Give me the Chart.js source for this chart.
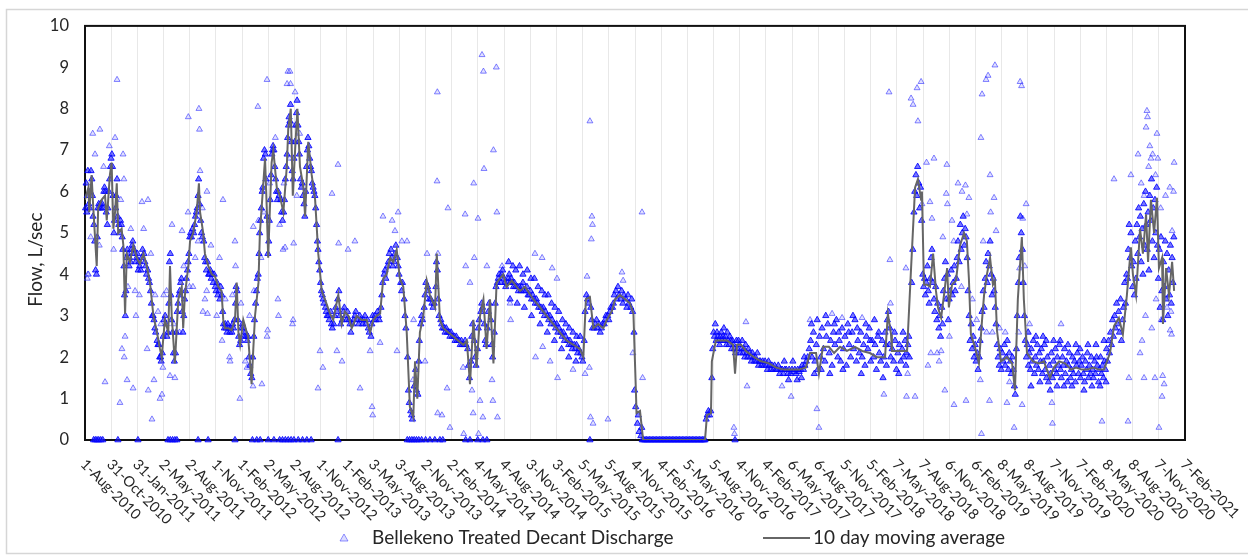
<!DOCTYPE html>
<html><head><meta charset="utf-8">
<script src="https://cdn.jsdelivr.net/npm/chart.js@4.4.1/dist/chart.umd.min.js"></script>
<style>html,body{margin:0;padding:0;background:#fff;}canvas{display:block;}</style>
</head><body>
<canvas id="c" width="1248" height="557"></canvas>
<script>
// x values are days since 1-Aug-2010
const tickLabels = ["1-Aug-2010","31-Oct-2010","31-Jan-2011","2-May-2011","2-Aug-2011","1-Nov-2011","1-Feb-2012","2-May-2012","2-Aug-2012","1-Nov-2012","1-Feb-2013","3-May-2013","3-Aug-2013","2-Nov-2013","2-Feb-2014","4-May-2014","4-Aug-2014","3-Nov-2014","3-Feb-2015","5-May-2015","5-Aug-2015","4-Nov-2015","4-Feb-2016","5-May-2016","5-Aug-2016","4-Nov-2016","4-Feb-2017","6-May-2017","6-Aug-2017","5-Nov-2017","5-Feb-2018","7-May-2018","7-Aug-2018","6-Nov-2018","6-Feb-2019","8-May-2019","8-Aug-2019","7-Nov-2019","7-Feb-2020","8-May-2020","8-Aug-2020","7-Nov-2020","7-Feb-2021"];
const axisMinDay = 0, axisMaxDay = 3843, tickStepDays = 91.5;
const yMin = 0, yMax = 10, yStep = 1;

const movingAverage = [[0,5.8],[12,6.1],[15,5.5],[23,6.4],[29,5.6],[41,4.2],[46,5.6],[58,5.8],[70,5.9],[76,5.3],[81,5.8],[87,6.4],[93,6.7],[99,5.1],[105,5.5],[111,6.2],[116,5.0],[128,5.1],[134,4.7],[140,3.05],[146,4.5],[157,4.3],[169,4.7],[181,4.4],[192,4.25],[204,4.5],[216,4.2],[227,3.8],[239,3.0],[250,2.65],[262,2.2],[268,2.0],[279,2.9],[291,2.6],[297,4.2],[303,3.0],[314,1.85],[326,3.4],[338,3.7],[343,2.7],[349,3.5],[361,4.2],[367,4.8],[378,5.0],[390,5.5],[398,6.2],[402,5.5],[413,5.0],[419,4.5],[431,4.2],[443,4.0],[454,3.95],[466,3.7],[477,3.6],[483,2.9],[489,2.7],[501,2.7],[512,2.65],[524,2.9],[530,3.8],[536,2.6],[542,2.3],[553,2.9],[565,2.6],[570,2.5],[582,1.35],[588,2.2],[594,3.0],[606,3.8],[611,5.0],[623,6.2],[629,6.8],[635,5.6],[640,4.4],[646,5.6],[652,6.7],[658,7.0],[670,6.1],[681,5.9],[693,5.5],[705,6.6],[710,7.5],[719,8.0],[726,5.9],[734,7.0],[742,8.0],[751,6.6],[763,6.1],[769,5.4],[780,7.2],[792,6.4],[804,5.8],[815,4.5],[827,3.6],[838,3.4],[856,3.05],[867,2.9],[885,3.5],[897,2.8],[908,3.1],[920,3.0],[932,2.7],[949,3.0],[967,2.9],[984,2.9],[996,2.6],[1007,2.9],[1019,3.0],[1031,3.05],[1042,3.9],[1054,4.0],[1066,4.4],[1077,4.3],[1089,4.6],[1100,3.9],[1112,3.7],[1124,2.6],[1135,0.8],[1147,0.55],[1153,1.9],[1161,1.0],[1170,2.6],[1182,3.0],[1194,3.85],[1205,3.5],[1223,3.2],[1229,4.5],[1240,2.9],[1252,2.7],[1269,2.6],[1287,2.5],[1304,2.4],[1322,2.3],[1334,2.4],[1345,1.35],[1357,2.9],[1368,1.75],[1380,3.0],[1392,3.4],[1403,2.2],[1415,3.4],[1427,1.85],[1438,3.8],[1450,3.9],[1461,4.0],[1473,3.7],[1491,3.85],[1508,3.7],[1520,3.6],[1537,3.7],[1566,3.4],[1590,3.2],[1613,3.0],[1636,2.8],[1659,2.6],[1683,2.4],[1706,2.3],[1729,2.2],[1741,2.0],[1750,3.4],[1764,3.45],[1776,2.7],[1793,2.8],[1811,2.7],[1823,2.9],[1840,3.1],[1852,3.4],[1869,3.5],[1887,3.4],[1904,3.3],[1916,3.05],[1922,1.75],[1927,0.65],[1939,0.7],[1950,0],[2166,0],[2173,0.6],[2187,0.65],[2190,1.9],[2204,2.4],[2225,2.4],[2243,2.4],[2264,2.3],[2271,1.6],[2278,2.3],[2292,2.3],[2309,2.15],[2337,2.0],[2362,1.9],[2390,1.85],[2414,1.75],[2442,1.7],[2466,1.7],[2494,1.7],[2519,1.75],[2533,2.1],[2554,2.1],[2564,1.6],[2578,2.25],[2599,2.25],[2617,2.1],[2638,2.25],[2662,2.15],[2690,2.25],[2715,2.15],[2742,2.1],[2767,2.0],[2795,2.0],[2805,3.05],[2816,2.55],[2819,2.15],[2847,2.15],[2872,2.15],[2886,4.15],[2900,6.1],[2910,6.3],[2921,5.8],[2924,6.0],[2931,3.75],[2942,3.75],[2952,3.7],[2963,4.5],[2973,3.6],[2980,3.2],[2991,2.95],[3001,3.5],[3012,4.15],[3018,3.2],[3029,3.75],[3043,3.85],[3057,4.7],[3071,5.0],[3081,4.8],[3088,3.9],[3095,2.55],[3109,2.25],[3123,1.85],[3134,2.9],[3141,3.5],[3151,4.0],[3162,4.4],[3172,3.75],[3179,3.85],[3186,2.65],[3200,1.9],[3221,2.0],[3239,1.85],[3249,1.2],[3259,3.4],[3273,4.9],[3280,3.4],[3291,2.1],[3312,1.9],[3333,1.85],[3350,1.9],[3371,1.5],[3385,1.75],[3403,1.9],[3424,1.85],[3445,1.7],[3462,1.75],[3483,1.7],[3501,1.7],[3522,1.75],[3543,1.7],[3560,1.7],[3581,2.1],[3595,2.75],[3612,2.95],[3626,2.55],[3640,3.5],[3654,4.65],[3661,4.0],[3672,3.5],[3686,5.1],[3696,4.5],[3707,5.45],[3714,4.3],[3724,5.8],[3735,5.0],[3745,5.85],[3752,4.15],[3763,4.4],[3766,2.8],[3777,4.15],[3787,3.5],[3798,4.3],[3805,3.6]];

const flow2010to2012 = [[2,5.6],[4,6.2],[6,5.5],[8,5.9],[10,6.5],[13,5.7],[16,5.6],[18,6.0],[21,6.5],[24,6.3],[26,5.9],[28,5.4],[31,5.2],[34,4.8],[37,4.1],[40,4.0],[43,4.9],[45,5.6],[48,5.7],[51,5.6],[54,5.7],[56,5.6],[60,5.7],[63,5.6],[66,6.0],[68,6.1],[72,6.0],[74,5.5],[78,5.2],[80,5.6],[83,6.0],[86,6.3],[89,6.6],[91,6.8],[94,6.9],[96,6.6],[98,5.9],[101,5.0],[103,5.3],[107,5.6],[109,5.9],[112,6.3],[114,5.4],[118,5.2],[121,5.0],[124,5.3],[127,5.2],[130,4.9],[132,4.6],[136,4.2],[138,3.5],[141,3.0],[143,3.6],[145,4.4],[148,4.6],[151,4.5],[154,4.2],[156,4.4],[159,4.3],[162,4.6],[165,4.7],[167,4.8],[171,4.6],[174,4.5],[177,4.3],[180,4.4],[183,4.5],[186,4.1],[189,4.3],[191,4.2],[195,4.1],[198,4.4],[201,4.6],[206,4.5],[209,4.3],[212,4.2],[215,4.0],[219,4.1],[222,3.9],[225,3.8],[229,3.6],[232,3.3],[235,3.0],[238,3.0],[241,2.9],[244,2.7],[247,2.6],[252,2.4],[255,2.3],[258,2.3],[261,2.0],[264,2.0],[266,1.9],[270,2.1],[273,2.5],[276,2.9],[280,3.0],[283,2.8],[286,2.5],[289,2.6],[293,3.3],[295,4.3],[298,4.5],[300,3.5],[302,2.9],[306,2.6],[309,2.1],[312,1.9],[316,2.1],[319,2.6],[322,3.1],[325,3.3],[328,3.5],[331,3.6],[334,3.8],[337,3.9],[340,3.1],[342,2.6],[345,3.0],[348,3.4],[351,3.6],[354,3.9],[358,4.1],[360,4.3],[363,4.5],[366,4.9],[369,5.0],[372,4.9],[376,5.1],[380,5.0],[383,5.2],[386,5.4],[389,5.5],[392,5.6],[395,5.9],[397,6.3],[400,5.7],[404,5.3],[407,5.0],[410,4.9],[415,4.8],[418,4.4],[421,4.3],[424,4.1],[428,4.3],[432,4.0],[435,4.0],[438,4.1],[441,3.9],[445,4.0],[448,3.8],[451,4.0],[455,3.7],[458,3.6],[461,3.8],[464,3.5],[468,3.6],[471,3.4],[474,3.7],[478,3.5],[481,3.1],[484,2.8],[487,2.7],[490,2.8],[493,2.7],[496,2.6],[499,2.8],[503,2.7],[506,2.6],[509,2.7],[513,2.6],[516,2.8],[519,2.7],[522,2.9],[526,3.3],[528,3.7],[531,3.6],[534,2.9],[537,2.5],[540,2.3],[544,2.4],[547,2.7],[550,2.8],[554,2.7],[557,2.5],[560,2.6],[563,2.5],[567,2.4],[569,2.5],[573,2.0],[576,1.8],[579,1.6],[583,1.5],[586,2.0],[590,2.5],[592,2.9],[596,3.3],[599,3.6],[602,3.9],[605,4.0],[608,4.5],[610,5.0],[613,5.3],[616,5.6],[619,6.0],[621,6.1],[624,6.8],[627,7.0],[630,6.9],[632,6.3],[636,5.4],[639,4.5],[642,4.8],[644,5.3],[647,5.8],[650,6.4],[653,6.9],[655,7.0],[657,7.1],[660,7.0],[663,6.6],[666,6.3],[669,6.0],[672,5.8],[675,6.0],[678,5.9],[684,5.8],[687,5.5],[690,5.3],[694,5.5],[697,5.8],[700,6.3],[703,6.6],[706,6.9],[708,7.3],[711,7.6],[713,7.8],[716,7.7],[718,8.1],[721,7.2],[724,6.5],[727,6.3],[730,6.8],[733,7.2],[736,7.6],[739,7.9],[741,8.2],[744,7.6],[747,7.2],[749,6.9]];

const flow2012to2015 = [[753,6.3],[756,6.1],[759,6.2],[762,5.9],[765,5.7],[768,5.4],[771,6.0],[774,6.6],[777,7.0],[779,7.3],[782,7.1],[785,6.8],[788,6.6],[791,6.5],[794,6.2],[797,6.1],[800,6.0],[803,5.9],[806,5.6],[809,5.2],[812,4.8],[814,4.6],[817,4.3],[820,4.1],[823,3.8],[826,3.6],[829,3.5],[832,3.4],[835,3.3],[840,3.2],[843,3.1],[846,3.0],[850,3.0],[853,2.9],[858,3.1],[861,2.8],[864,2.7],[869,2.8],[872,3.0],[876,3.2],[880,3.1],[883,3.4],[887,3.6],[890,3.0],[893,2.8],[899,2.9],[903,3.1],[906,3.2],[911,3.0],[914,2.9],[917,3.1],[923,2.9],[926,2.8],[929,2.6],[935,2.8],[939,2.9],[943,3.0],[946,3.1],[952,2.9],[956,2.8],[960,3.0],[963,2.9],[970,2.8],[974,2.9],[978,3.0],[981,2.8],[987,2.9],[990,2.7],[993,2.6],[999,2.5],[1002,2.8],[1005,3.0],[1010,2.9],[1013,3.0],[1016,2.9],[1022,3.1],[1025,3.0],[1028,2.9],[1034,3.2],[1037,3.5],[1040,3.8],[1045,4.0],[1048,4.1],[1051,3.9],[1057,4.2],[1060,4.3],[1063,4.5],[1069,4.6],[1072,4.4],[1075,4.2],[1080,4.3],[1083,4.5],[1086,4.7],[1091,4.4],[1094,4.2],[1097,4.0],[1103,3.8],[1106,3.6],[1109,3.8],[1115,3.4],[1118,3.0],[1121,2.7],[1127,2.0],[1130,1.2],[1133,0.9],[1138,0.7],[1141,0.6],[1144,0.5],[1150,1.3],[1155,1.7],[1158,1.2],[1163,1.1],[1166,1.9],[1168,2.4],[1173,2.8],[1176,3.0],[1179,2.9],[1185,3.2],[1188,3.5],[1191,3.8],[1197,3.7],[1200,3.6],[1203,3.4],[1208,3.4],[1212,3.3],[1216,3.2],[1220,3.3],[1226,3.7],[1228,4.3],[1231,4.1],[1234,3.4],[1237,3.0],[1243,2.9],[1246,2.8],[1249,2.7],[1255,2.7],[1258,2.6],[1262,2.7],[1266,2.6],[1272,2.6],[1275,2.5],[1279,2.6],[1283,2.5],[1290,2.5],[1293,2.4],[1297,2.5],[1300,2.4],[1307,2.4],[1311,2.3],[1315,2.4],[1318,2.3],[1325,2.3],[1328,2.4],[1331,2.3],[1337,2.2],[1340,1.8],[1343,1.5],[1348,1.9],[1351,2.5],[1354,2.8],[1360,2.4],[1363,2.0],[1366,1.8],[1371,2.2],[1374,2.7],[1377,2.9],[1383,3.1],[1386,3.3],[1389,3.2],[1395,2.8],[1398,2.4],[1401,2.3],[1406,2.7],[1409,3.1],[1412,3.3],[1418,2.9],[1421,2.3],[1424,2.0],[1430,2.6],[1433,3.3],[1436,3.7],[1441,3.8],[1444,3.9],[1447,4.0],[1453,3.8],[1456,4.0],[1459,4.1],[1464,3.9],[1467,3.8],[1470,3.7],[1476,3.8],[1479,3.9],[1482,4.0],[1486,3.8],[1489,3.9],[1494,3.8],[1497,3.7],[1500,3.8],[1504,3.7],[1511,3.7],[1514,3.6],[1517,3.7],[1523,3.6],[1526,3.7],[1530,3.8],[1533,3.6],[1540,3.6],[1544,3.7],[1548,3.5],[1552,3.5],[1556,3.6],[1560,3.4],[1564,3.5],[1569,3.4],[1573,3.3],[1577,3.4],[1581,3.3],[1585,3.2],[1593,3.2],[1597,3.1],[1601,3.2],[1605,3.0],[1609,3.1],[1616,3.0],[1620,2.9],[1624,3.0],[1628,2.8],[1632,2.9],[1640,2.8],[1644,2.7],[1648,2.8],[1652,2.6],[1656,2.7],[1663,2.6],[1667,2.5],[1671,2.6],[1675,2.4],[1679,2.5],[1686,2.4],[1690,2.3],[1694,2.4],[1698,2.3],[1702,2.2],[1709,2.3],[1713,2.2],[1717,2.3],[1721,2.1],[1725,2.2],[1732,2.1],[1736,2.0],[1739,1.9],[1744,2.4],[1747,3.1],[1752,3.5],[1756,3.4],[1760,3.3],[1767,3.2],[1770,2.9],[1773,2.7],[1779,2.7],[1783,2.8],[1787,2.9],[1790,2.7],[1796,2.8],[1800,2.6],[1804,2.7],[1808,2.8],[1814,2.8],[1817,2.9],[1820,3.0],[1826,3.0],[1830,2.9],[1834,3.1],[1837,3.2],[1843,3.2],[1846,3.3],[1849,3.5],[1855,3.6],[1858,3.4],[1862,3.7],[1866,3.5],[1872,3.4],[1875,3.6],[1879,3.3],[1883,3.5],[1890,3.4],[1893,3.2],[1897,3.5],[1900,3.3],[1907,3.2],[1910,3.4],[1913,3.1],[1918,2.6],[1920,1.2],[1924,0.8],[1930,0.4],[1933,0.6],[1936,0.2],[1942,0.1],[1945,0.3],[1480,4.3],[1495,4.2],[1505,4.1],[1518,4.2],[1530,4.0],[1545,4.1],[1558,3.9],[1570,3.9],[1583,3.7],[1596,3.6],[1607,3.5],[1618,3.5],[1630,3.3],[1642,3.2],[1655,3.1],[1668,2.9],[1680,2.8],[1692,2.7],[1705,2.6],[1718,2.5],[1730,2.5],[1485,3.4],[1510,3.3],[1535,3.2],[1560,3.0],[1590,2.8],[1615,2.6],[1640,2.4],[1665,2.2],[1690,2.0],[1715,1.9]];

const flow2016to2018 = [[2170,0.5],[2174,0.6],[2178,0.7],[2182,0.6],[2186,0.7],[2190,1.5],[2193,2.2],[2196,2.6],[2199,2.5],[2202,2.8],[2205,2.4],[2208,2.6],[2211,2.5],[2214,2.4],[2217,2.3],[2220,2.5],[2223,2.6],[2226,2.4],[2229,2.5],[2232,2.7],[2235,2.4],[2238,2.5],[2241,2.3],[2244,2.6],[2247,2.4],[2250,2.3],[2253,2.5],[2256,2.4],[2259,2.2],[2262,2.4],[2266,2.3],[2269,2.2],[2273,2.1],[2276,2.4],[2280,2.2],[2283,2.4],[2286,2.3],[2289,2.1],[2293,2.2],[2296,2.4],[2299,2.1],[2302,2.2],[2305,2.0],[2308,2.3],[2312,2.1],[2315,2.0],[2318,2.2],[2322,2.1],[2325,2.0],[2328,1.9],[2332,2.1],[2335,2.0],[2339,1.9],[2342,2.0],[2346,1.9],[2349,2.1],[2353,1.8],[2356,1.9],[2360,1.9],[2364,1.8],[2368,1.9],[2372,1.8],[2376,1.9],[2380,1.8],[2384,1.7],[2388,1.9],[2392,1.8],[2396,1.7],[2400,1.8],[2405,1.7],[2409,1.8],[2413,1.7],[2418,1.7],[2422,1.8],[2427,1.6],[2431,1.7],[2436,1.7],[2440,1.6],[2445,1.7],[2450,1.7],[2455,1.6],[2460,1.7],[2465,1.6],[2470,1.7],[2475,1.65],[2480,1.7],[2485,1.6],[2490,1.7],[2495,1.65],[2500,1.7],[2505,1.8],[2510,1.7],[2515,1.8],[2520,1.9],[2525,2.0],[2530,2.2],[2535,2.4],[2540,2.0],[2545,2.6],[2550,1.9],[2555,2.3],[2560,1.7],[2566,2.5],[2570,2.0],[2575,2.7],[2580,2.2],[2585,1.9],[2590,2.5],[2595,2.8],[2600,2.1],[2605,2.4],[2610,1.8],[2615,2.6],[2620,2.3],[2625,2.9],[2630,2.0],[2635,2.4],[2640,1.9],[2645,2.7],[2650,2.2],[2655,2.5],[2660,1.8],[2665,2.8],[2670,2.3],[2675,2.0],[2680,2.6],[2685,2.2],[2690,2.9],[2695,1.9],[2700,2.4],[2705,2.1],[2710,2.6],[2715,2.0],[2720,2.3],[2725,1.8],[2730,2.5],[2735,2.2],[2740,2.7],[2745,1.9],[2750,2.4],[2755,2.0],[2760,2.3],[2765,1.7],[2770,2.5],[2775,2.1],[2780,1.9],[2785,2.4],[2790,2.0],[2795,2.6],[2800,1.8],[2803,2.9],[2807,3.1],[2810,2.3],[2815,2.0],[2820,2.2],[2825,1.9],[2830,2.4],[2835,1.7],[2840,2.1],[2845,2.3],[2850,1.9],[2855,2.2],[2860,2.0],[2865,2.4],[2870,2.1],[2875,2.3],[2880,2.0],[2538,2.8],[2548,1.6],[2558,2.9],[2572,1.7],[2588,3.0],[2602,1.6],[2618,2.8],[2633,2.6],[2648,1.7],[2668,2.6],[2683,3.0],[2698,2.7],[2712,1.6],[2728,2.8],[2743,2.4],[2758,2.9],[2773,2.6],[2788,1.5],[2798,2.3],[2812,2.7],[2828,2.6],[2843,1.6],[2858,2.6],[2868,1.8],[2878,2.5],[2443,1.9],[2458,1.45],[2473,1.9],[2488,1.45],[2503,1.5],[2513,2.0]];

const flow2018to2021 = [[2888,3.8],[2892,4.6],[2896,5.5],[2899,6.0],[2903,6.4],[2906,5.9],[2909,6.6],[2913,6.2],[2916,5.6],[2919,6.1],[2923,5.3],[2927,4.0],[2930,3.7],[2933,3.9],[2936,3.5],[2939,3.8],[2943,4.2],[2946,3.6],[2949,3.3],[2953,3.9],[2956,4.4],[2959,4.6],[2962,3.8],[2966,3.4],[2969,3.1],[2972,3.7],[2976,2.9],[2979,3.3],[2983,2.7],[2986,3.0],[2989,2.5],[2993,3.2],[2996,2.8],[2999,3.6],[3003,3.9],[3006,4.3],[3009,3.4],[3013,4.0],[3016,2.9],[3019,3.4],[3023,3.6],[3026,4.1],[3030,3.5],[3033,3.8],[3037,4.2],[3040,3.6],[3044,3.9],[3047,4.4],[3050,4.8],[3054,4.3],[3058,5.2],[3061,4.6],[3065,5.0],[3068,5.4],[3072,4.7],[3075,5.1],[3078,4.9],[3082,4.4],[3085,3.6],[3089,3.0],[3092,2.4],[3096,2.8],[3099,2.2],[3103,2.5],[3106,2.0],[3110,2.3],[3113,1.9],[3117,2.1],[3120,1.7],[3124,2.0],[3127,2.4],[3131,2.7],[3134,3.1],[3138,3.6],[3141,3.2],[3145,3.9],[3148,4.3],[3152,3.8],[3155,4.5],[3159,4.2],[3162,4.8],[3166,4.0],[3169,3.5],[3173,3.9],[3176,3.6],[3180,3.2],[3183,2.8],[3187,2.3],[3190,2.0],[3194,1.8],[3197,2.2],[3201,1.7],[3205,2.1],[3208,1.9],[3212,2.3],[3215,1.8],[3219,2.0],[3222,2.4],[3226,1.7],[3229,2.1],[3233,1.9],[3236,1.6],[3240,2.0],[3243,1.7],[3247,1.3],[3250,1.1],[3254,2.2],[3257,3.0],[3261,3.8],[3264,4.4],[3268,5.4],[3271,5.0],[3275,4.6],[3278,3.8],[3282,3.0],[3285,2.4],[3289,2.0],[3292,2.3],[3296,1.8],[3299,2.1],[3303,1.7],[3306,2.2],[3310,1.9],[3313,2.4],[3317,1.6],[3320,2.0],[3324,1.8],[3327,2.3],[3331,1.7],[3334,2.1],[3338,1.9],[3341,2.2],[3345,1.6],[3348,1.9],[3352,2.3],[3355,1.7],[3359,1.5],[3362,2.0],[3366,1.4],[3369,1.8],[3373,1.6],[3376,2.1],[3380,1.5],[3383,1.9],[3387,1.7],[3390,2.2],[3394,1.6],[3397,2.0],[3401,1.8],[3404,2.3],[3408,1.7],[3411,1.5],[3415,2.0],[3418,1.8],[3422,2.2],[3425,1.6],[3429,1.9],[3432,1.4],[3436,1.8],[3439,2.1],[3443,1.5],[3446,1.7],[3450,2.0],[3453,1.6],[3457,1.9],[3460,1.4],[3464,1.8],[3467,2.1],[3471,1.6],[3474,1.9],[3478,1.5],[3481,1.8],[3485,2.0],[3488,1.6],[3492,1.4],[3495,1.9],[3499,1.7],[3502,2.1],[3506,1.5],[3509,1.8],[3513,1.6],[3516,2.0],[3520,1.7],[3523,1.5],[3527,1.9],[3530,1.6],[3534,2.0],[3537,1.8],[3541,1.4],[3544,1.7],[3548,2.0],[3551,1.6],[3555,1.8],[3558,1.5],[3562,1.9],[3565,1.7],[3569,2.2],[3572,1.9],[3576,2.4],[3579,2.1],[3583,2.6],[3586,2.3],[3590,2.9],[3593,2.5],[3597,3.0],[3600,2.7],[3604,3.3],[3607,2.8],[3611,3.1],[3614,2.6],[3618,3.4],[3621,2.4],[3625,2.9],[3628,3.2],[3632,3.8],[3635,3.3],[3639,4.0],[3295,2.6],[3305,1.3],[3322,2.5],[3336,1.4],[3347,2.5],[3358,2.4],[3372,1.2],[3384,2.4],[3396,1.3],[3407,2.4],[3420,1.3],[3434,2.3],[3448,1.3],[3462,2.3],[3476,2.2],[3490,1.2],[3504,2.3],[3518,1.3],[3532,2.3],[3546,1.3],[3560,2.4],[3567,1.4],[3642,3.9],[3645,4.6],[3648,5.2],[3651,4.4],[3654,5.0],[3657,4.2],[3660,3.7],[3663,4.3],[3666,3.5],[3669,4.8],[3672,3.9],[3675,5.2],[3678,4.5],[3681,5.6],[3684,4.9],[3687,5.4],[3690,4.3],[3693,5.1],[3696,4.0],[3699,5.7],[3702,4.7],[3705,6.0],[3708,5.2],[3711,4.6],[3714,5.5],[3717,4.1],[3720,5.9],[3723,5.3],[3726,6.3],[3729,4.8],[3732,5.6],[3735,4.4],[3738,5.8],[3741,5.0],[3744,6.1],[3747,4.7],[3750,3.9],[3753,4.6],[3756,3.2],[3759,4.9],[3762,3.6],[3765,2.9],[3768,4.3],[3771,3.7],[3774,4.8],[3777,3.4],[3780,4.5],[3783,3.0],[3786,4.1],[3789,3.5],[3792,4.7],[3795,3.3],[3798,4.4],[3801,3.8],[3804,4.9]];

const flowZero = [[30,0],[36,0],[42,0],[48,0],[55,0],[62,0],[115,0],[185,0],[290,0],[298,0],[306,0],[314,0],[321,0],[395,0],[430,0],[524,0],[585,0],[600,0],[612,0],[640,0],[660,0],[680,0],[690,0],[700,0],[710,0],[720,0],[730,0],[745,0],[760,0],[775,0],[790,0],[884,0],[1126,0],[1134,0],[1142,0],[1150,0],[1158,0],[1166,0],[1176,0],[1190,0],[1205,0],[1222,0],[1240,0],[1250,0],[1330,0],[1345,0],[1372,0],[1390,0],[1404,0],[1764,0],[2271,0],[1947,0],[1952,0],[1957,0],[1962,0],[1967,0],[1972,0],[1977,0],[1982,0],[1987,0],[1992,0],[1997,0],[2002,0],[2007,0],[2012,0],[2017,0],[2022,0],[2027,0],[2032,0],[2037,0],[2042,0],[2047,0],[2052,0],[2057,0],[2062,0],[2067,0],[2072,0],[2077,0],[2082,0],[2087,0],[2092,0],[2097,0],[2102,0],[2107,0],[2112,0],[2117,0],[2122,0],[2127,0],[2132,0],[2137,0],[2142,0],[2147,0],[2152,0],[2157,0],[2162,0],[2166,0]];

const flowOutliers = [[10,4.0],[12,4.0],[8,3.9],[27,7.4],[52,7.5],[35,6.9],[70,1.4],[112,8.7],[105,7.3],[133,6.9],[136,6.3],[122,0.9],[129,2.2],[140,2.5],[147,1.45],[168,1.25],[137,2.0],[178,3.0],[199,5.75],[220,5.8],[217,2.2],[221,1.2],[234,0.5],[262,1.0],[269,1.1],[272,1.75],[241,1.45],[304,5.2],[297,1.55],[314,1.5],[339,5.05],[360,5.5],[377,3.7],[361,7.8],[398,8.0],[400,7.5],[402,6.5],[426,6.0],[482,5.8],[412,3.1],[428,3.05],[419,3.4],[479,2.4],[507,1.9],[524,4.8],[526,4.2],[541,1.0],[566,1.75],[587,1.3],[618,1.35],[604,8.05],[588,5.15],[606,5.3],[636,8.7],[636,2.5],[638,2.65],[674,3.4],[676,3.0],[692,4.6],[727,2.9],[729,4.75],[709,8.9],[706,8.6],[716,8.9],[718,8.6],[734,8.4],[699,4.65],[725,2.8],[884,6.65],[863,5.95],[821,2.15],[831,1.75],[814,1.25],[880,2.15],[898,1.9],[961,1.25],[886,4.75],[919,4.6],[943,4.8],[996,2.15],[1003,0.8],[1005,0.6],[1031,2.35],[1041,5.4],[1073,5.3],[1094,5.5],[1083,5.05],[1107,4.8],[1125,4.8],[1090,2.15],[1146,1.45],[1148,2.9],[1188,1.9],[1195,4.5],[1230,6.25],[1231,8.4],[1233,4.5],[1232,0.65],[1247,0.6],[1265,1.25],[1268,5.6],[1328,5.45],[1373,5.35],[1439,5.5],[1275,0.3],[1321,1.75],[1323,0.15],[1352,1.2],[1356,0.65],[1375,0.15],[1380,0.95],[1390,0.55],[1425,0.95],[1441,0.55],[1422,1.45],[1358,6.2],[1387,9.3],[1392,8.9],[1437,9.0],[1427,7.0],[1394,6.55],[1330,4.2],[1345,3.8],[1360,4.4],[1404,4.2],[1457,4.2],[1485,3.3],[1487,2.9],[1572,4.5],[1597,4.4],[1632,4.15],[1649,3.9],[1574,2.0],[1599,2.25],[1625,1.9],[1651,1.5],[1705,1.7],[1764,7.7],[1771,5.4],[1773,5.2],[1769,4.85],[1754,3.95],[1747,1.6],[1762,1.75],[1766,0.55],[1775,0.4],[1827,0.5],[1876,4.05],[1880,3.85],[1914,2.1],[1946,5.5],[1948,1.5],[2267,0.3],[2269,0.15],[2309,2.85],[2313,1.3],[2435,1.3],[2467,1.05],[2557,0.75],[2564,0.3],[2533,2.9],[2610,3.05],[2645,2.95],[2715,2.95],[2809,8.4],[2812,4.35],[2814,3.3],[2791,1.1],[2868,4.15],[2872,2.05],[2874,1.6],[2870,1.05],[2900,1.05],[2886,8.25],[2893,8.1],[2907,8.5],[2921,8.65],[2910,7.7],[2924,5.7],[2945,1.8],[2952,5.75],[2959,5.35],[2966,6.8],[3011,6.65],[3004,1.2],[3036,0.85],[3078,0.95],[3050,6.2],[3064,6.0],[3076,6.15],[3088,5.85],[3029,5.3],[3009,5.95],[3013,5.7],[3081,5.45],[2977,2.1],[2991,2.15],[3130,7.3],[3134,8.35],[3148,8.7],[3155,8.8],[3179,9.05],[3162,6.4],[3176,5.85],[3164,5.5],[3183,5.05],[3128,1.45],[3132,0.15],[3160,0.95],[3221,0.9],[3246,0.3],[3274,0.85],[3267,8.65],[3272,8.55],[3276,5.35],[3288,5.7],[3265,4.15],[3378,0.9],[3380,0.4],[3410,2.8],[3553,0.45],[3644,0.45],[3595,6.3],[3647,1.5],[3654,6.4],[3679,6.9],[3710,7.95],[3712,7.8],[3707,7.55],[3745,7.4],[3724,6.8],[3805,6.7],[3686,2.1],[3700,1.5],[3738,1.5],[3752,0.3],[3763,1.05],[3770,1.35],[3765,1.55],[3798,5.05],[3803,6.0],[3791,2.65],[3796,2.55],[3690,6.2],[3700,5.9],[3716,6.6],[3730,6.9],[3740,6.4],[3758,5.6],[3775,5.9],[3790,6.1],[3748,6.8],[3720,7.1],[3693,2.4],[3705,3.0],[3727,2.7],[3742,3.4],[3760,2.9],[3780,3.2],[3794,3.1],[2940,6.7],[2955,2.1],[2984,1.9],[2997,4.9],[3020,2.5],[3035,4.8],[3062,3.7],[3100,3.4],[3115,2.9],[3138,4.8],[3150,2.6],[3170,2.6],[3195,2.7],[3215,2.6],[3230,1.4],[3262,2.6],[3283,4.2],[3300,2.8],[20,4.9],[50,4.7],[65,6.6],[85,7.1],[100,4.6],[125,5.8],[150,3.7],[160,5.1],[175,3.6],[190,3.5],[205,5.1],[230,4.5],[245,3.5],[255,3.1],[265,2.8],[275,3.5],[285,3.6],[310,2.8],[330,2.6],[345,4.2],[365,3.7],[385,4.4],[395,4.8],[410,5.6],[425,3.6],[440,4.7],[460,3.0],[470,4.4],[490,3.4],[505,2.0],[515,3.5],[545,3.3],[560,1.9],[575,3.0],[590,3.6],[615,4.4],[625,5.5],[645,6.2],[665,7.3],[680,5.2],[695,6.2],[715,6.8],[725,7.6],[740,5.9],[750,7.4]];

const seriesNames = ["Bellekeno Treated Decant Discharge", "10 day moving average"];
const FONT = "Lato, 'Open Sans', sans-serif";
const TEXT = '#262626';

const toXY = arr => arr.map(p => ({x: p[0], y: p[1]}));
const denseData = toXY([].concat(flow2010to2012, flow2012to2015, flow2016to2018, flow2018to2021, flowZero));
const sparseData = toXY(flowOutliers);

const decorPlugin = {
  id: 'decor',
  beforeDraw(chart) {
    const ctx = chart.ctx;
    ctx.save();
    ctx.fillStyle = '#fff';
    ctx.fillRect(0, 0, chart.width, chart.height);
    ctx.strokeStyle = '#d6d6d6';
    ctx.lineWidth = 1.5;
    ctx.strokeRect(6.5, 9.5, chart.width + 20, chart.height - 13);
    ctx.restore();
  },
  beforeDatasetsDraw(chart) {
    const {ctx, chartArea: a} = chart;
    ctx.save();
    ctx.strokeStyle = '#111';
    ctx.lineWidth = 2;
    ctx.strokeRect(a.left, a.top, a.right - a.left, a.bottom - a.top);
    ctx.restore();
  },
  afterDraw(chart) {
    const ctx = chart.ctx;
    const xs = chart.scales.x;
    ctx.save();
    ctx.fillStyle = TEXT;
    ctx.font = '14.5px ' + FONT;
    ctx.textAlign = 'left';
    ctx.textBaseline = 'middle';
    xs.ticks.forEach((t, i) => {
      const px = xs.getPixelForValue(t.value);
      ctx.save();
      ctx.translate(px - 2, 462);
      ctx.rotate(Math.PI / 4);
      ctx.fillText(tickLabels[i] || '', 0, 0);
      ctx.restore();
    });
    // legend
    const ly = 538;
    const scatterDs = chart.data.datasets[1], lineDs = chart.data.datasets[0];
    ctx.font = '19px ' + FONT;
    ctx.beginPath();
    ctx.moveTo(344, ly - 4); ctx.lineTo(348, ly + 3); ctx.lineTo(340, ly + 3); ctx.closePath();
    ctx.fillStyle = 'rgba(120,120,255,0.25)'; ctx.fill();
    ctx.strokeStyle = 'rgba(60,60,255,0.55)'; ctx.lineWidth = 1; ctx.stroke();
    ctx.fillStyle = TEXT;
    ctx.fillText(scatterDs.label, 372, ly);
    ctx.strokeStyle = '#666'; ctx.lineWidth = 2;
    ctx.beginPath(); ctx.moveTo(763, ly); ctx.lineTo(810, ly); ctx.stroke();
    ctx.fillText(lineDs.label, 813, ly);
    ctx.restore();
  }
};

new Chart(document.getElementById('c'), {
  type: 'scatter',
  data: {
    datasets: [
      {
        label: seriesNames[1],
        data: toXY(movingAverage),
        showLine: true,
        borderColor: '#666',
        borderWidth: 2,
        pointRadius: 0,
        tension: 0,
        order: 0
      },
      {
        label: seriesNames[0],
        data: denseData,
        pointStyle: 'triangle',
        pointRadius: 3.6,
        borderWidth: 1,
        borderColor: 'rgba(0,0,255,0.85)',
        backgroundColor: 'rgba(30,30,255,0.6)',
        clip: false,
        order: 1
      },
      {
        label: seriesNames[0],
        data: sparseData,
        pointStyle: 'triangle',
        pointRadius: 3.4,
        borderWidth: 1,
        borderColor: 'rgba(50,50,255,0.6)',
        backgroundColor: 'rgba(120,120,255,0.22)',
        clip: false,
        order: 2
      }
    ]
  },
  options: {
    responsive: false,
    devicePixelRatio: 1,
    animation: false,
    layout: {padding: {left: 0, right: 63, top: 25, bottom: 0}},
    plugins: {legend: {display: false}, tooltip: {enabled: false}},
    scales: {
      x: {
        type: 'linear',
        min: axisMinDay, max: axisMaxDay,
        afterFit: s => { s.height = 117; },
        ticks: {display: false, stepSize: tickStepDays, autoSkip: false, maxTicksLimit: 100},
        grid: {color: '#e8e8e8', lineWidth: 1, drawTicks: false},
        border: {display: false}
      },
      y: {
        min: yMin, max: yMax,
        afterFit: s => { s.width = 85; },
        ticks: {stepSize: yStep, padding: 16, color: TEXT, font: {family: FONT, size: 16.5}},
        grid: {display: false, drawTicks: false},
        border: {display: false},
        title: {display: true, text: 'Flow, L/sec' + '\u00a0'.repeat(11), color: TEXT, font: {family: FONT, size: 19}, padding: {top: 24, bottom: 0}}
      }
    }
  },
  plugins: [decorPlugin]
});
</script>
</body></html>
